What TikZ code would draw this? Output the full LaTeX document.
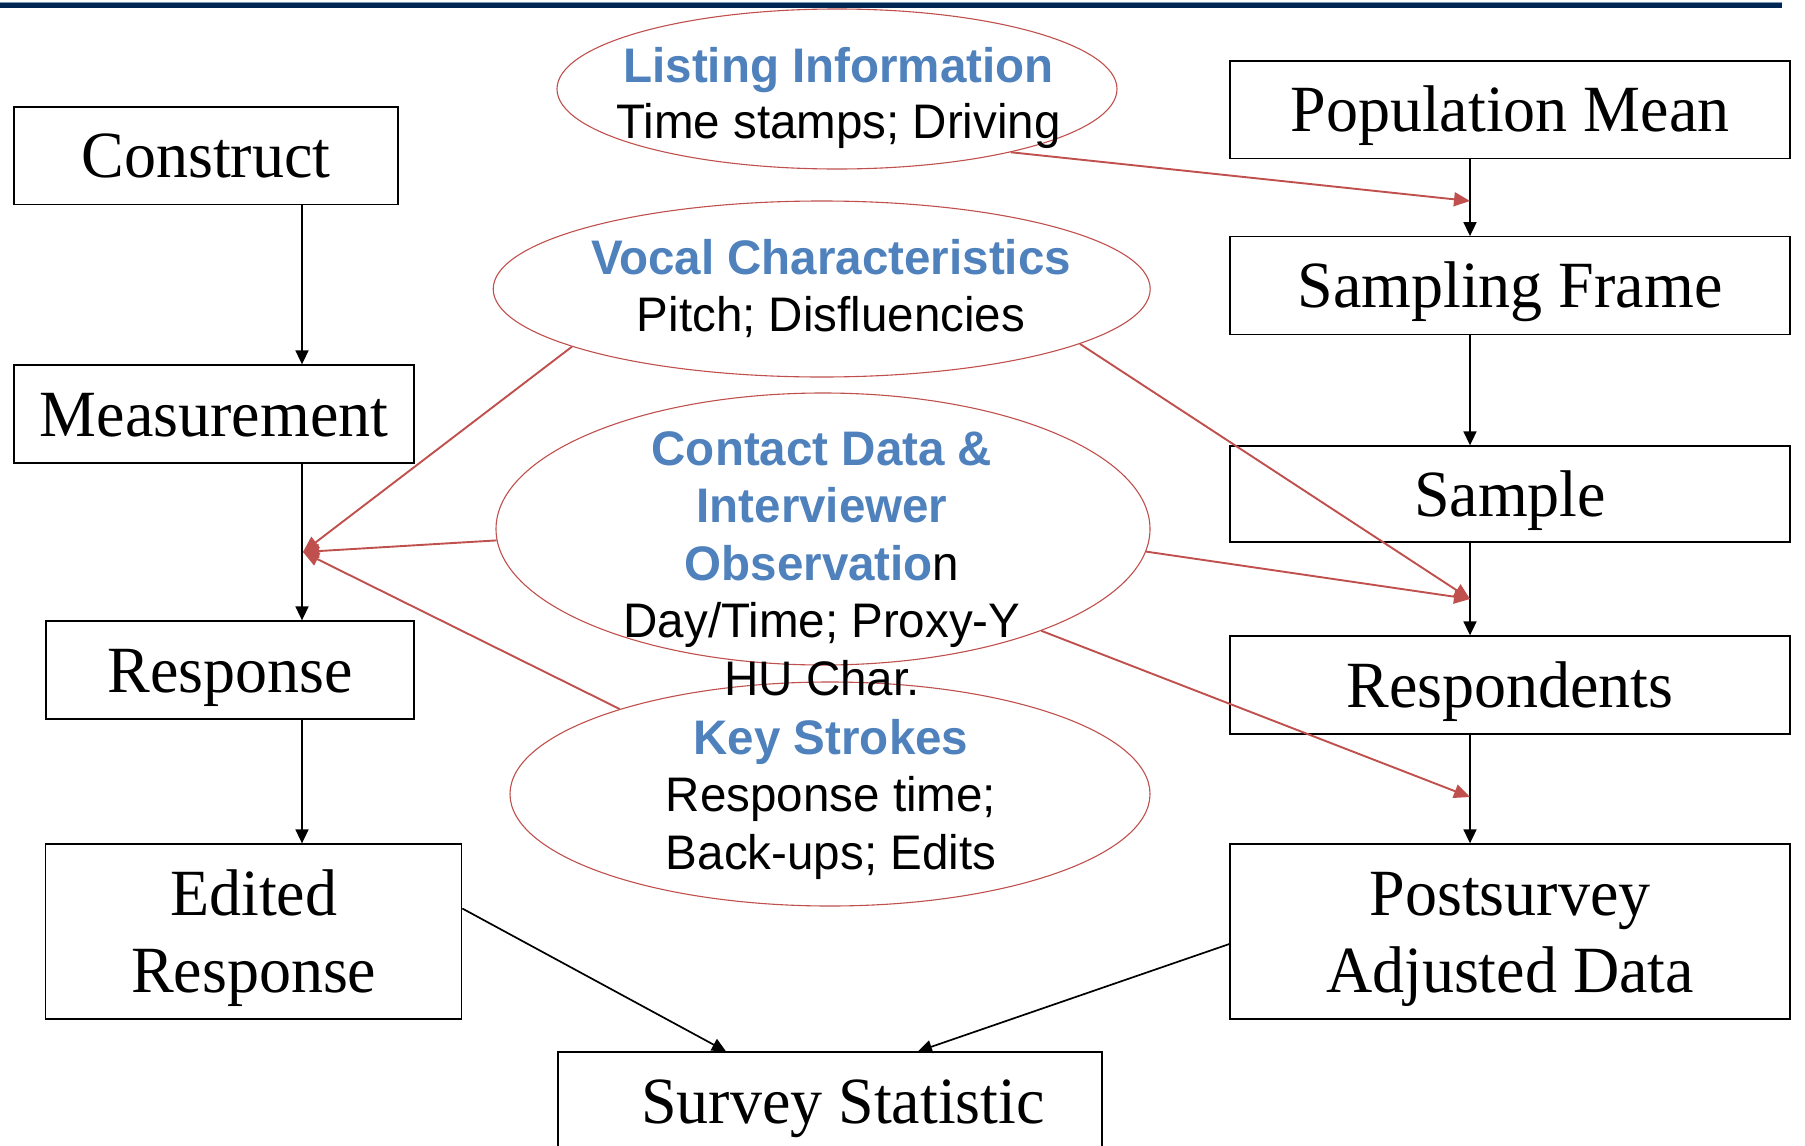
\documentclass[tikz,border=0pt]{standalone}
\usepackage{fontspec}
\setmainfont{Liberation Serif}[FakeStretch=0.97]
\newfontfamily\sansf{Liberation Sans}[FakeStretch=0.98]
\usetikzlibrary{shapes.geometric,arrows.meta}
\definecolor{tblue}{RGB}{79,129,189}
\definecolor{ered}{RGB}{192,80,77}
\definecolor{navy}{RGB}{0,38,84}
\newcommand{\mlines}[1]{\begin{tabular}[t]{@{}c@{}}#1\end{tabular}}
\newcommand{\ttl}[1]{\textcolor{tblue}{\bfseries #1}}
\begin{document}
\begin{tikzpicture}[x=1pt,y=-1pt,
  box/.style={draw=black, line width=1.3pt, inner sep=0pt,
    font=\fontsize{66}{77}\selectfont, text height=58pt, text depth=14pt},
  box2/.style={box, text height=54pt, text depth=87pt},
  ell/.style={draw=ered, line width=1.1pt, ellipse, inner sep=0pt},
  etext/.style={font=\sansf\fontsize{48.5}{57.5}\selectfont, anchor=base, inner sep=0pt},
  arr/.style={draw=black, line width=1.7pt, -{Triangle[length=14pt,width=13pt]}},
  rarr/.style={draw=ered, line width=1.9pt, -{Triangle[length=16pt,width=14pt]}}]
\useasboundingbox (0,0) rectangle (1805,1146);
\fill[white] (0,0) rectangle (1805,1146);
% top bar
\fill[navy] (0,3) rectangle (1782,8);
\draw[line width=0.8pt, color={rgb,255:red,120;green,150;blue,190}] (0,2.6) -- (1782,2.6);

% helper coordinates
\coordinate (lx) at (302,0);
\coordinate (rx) at (1470,0);
\coordinate (mg) at (303,552);
\coordinate (m1) at (1470,201);
\coordinate (m2) at (1470,599);
\coordinate (m3) at (1470,797);

% left boxes
\node[box, minimum width=384pt, minimum height=97.5pt] (c) at (206,155.7) {Construct};
\node[box, minimum width=400pt, minimum height=98pt] (m) at (214,414) {Measurement};
\node[box, minimum width=368pt, minimum height=98pt] (r) at (230,670) {Response};
\node[box2, minimum width=416pt, minimum height=175pt] (er) at (253.7,931.5) {\mlines{Edited\\Response}};

% right boxes
\node[box, minimum width=560pt, minimum height=97.3pt] (pm) at (1510,109.7) {Population Mean};
\node[box, minimum width=560pt, minimum height=97.5pt] (sf) at (1510,285.5) {Sampling Frame};
\node[box, minimum width=560pt, minimum height=96pt] (sa) at (1510,494) {Sample};
\node[box, minimum width=560pt, minimum height=98pt] (rs) at (1510,685) {Respondents};
\node[box2, minimum width=560pt, minimum height=175pt] (pa) at (1510,931.5) {\mlines{Postsurvey\\Adjusted Data}};

% survey statistic (cut by the lower edge)
\begin{scope}
\clip (0,0) rectangle (1805,1146);
\node[box, minimum width=544pt, minimum height=108pt] (ss) at (830,1106) {};
\end{scope}
\node[anchor=base, inner sep=0pt, font=\fontsize{66}{77}\selectfont] (sst) at (843,1123) {Survey Statistic};

% ellipses
\node[ell, minimum width=560pt, minimum height=160pt] (eL) at (837,89) {};
\node[ell, minimum width=657pt, minimum height=176pt] (eV) at (821.7,289) {};
\node[ell, minimum width=654pt, minimum height=272pt] (eC) at (823,529) {};
\node[ell, minimum width=640pt, minimum height=224pt] (eK) at (830,794) {};

% ellipse texts
\node[etext] (tL) at (838.5,82.7) {\fontsize{48.5}{56}\selectfont\mlines{\ttl{Listing Information}\\Time stamps; Driving}};
\node[etext] (tV) at (831,274) {\mlines{\ttl{Vocal Characteristics}\\Pitch; Disfluencies}};
\node[etext] (tC) at (822,465) {\mlines{\ttl{Contact Data \&}\\\ttl{Interviewer}\\\ttl{Observatio}n\\Day/Time; Proxy-Y\\HU Char.}};
\node[etext] (tK) at (831,754) {\mlines{\ttl{Key Strokes}\\Response time;\\Back-ups; Edits}};

% black arrows
\draw[arr] (c.south -| lx) -- (m.north -| lx);
\draw[arr] (m.south -| lx) -- (r.north -| lx);
\draw[arr] (r.south -| lx) -- (er.north -| lx);
\draw[arr] (pm.south -| rx) -- (sf.north -| rx);
\draw[arr] (sf.south -| rx) -- (sa.north -| rx);
\draw[arr] (sa.south -| rx) -- (rs.north -| rx);
\draw[arr] (rs.south -| rx) -- (pa.north -| rx);
\draw[arr] ([yshift=23pt]er.east) -- ([xshift=-104pt]ss.north);
\draw[arr] ([yshift=-12.5pt]pa.west) -- ([xshift=88pt]ss.north);

% red arrows
\draw[rarr] (eL.-20.75) -- (m1);
\draw[rarr] (eV.-167.2) -- (mg);
\draw[rarr] (eC.-178.8) -- (mg);
\draw[rarr] (eK.158.7) -- (mg);
\draw[rarr] (eV.-12.84) -- (m2);
\draw[rarr] (eC.-4.25) -- (m2);
\draw[rarr] (eC.-25.8) -- (m3);
\end{tikzpicture}
\end{document}
